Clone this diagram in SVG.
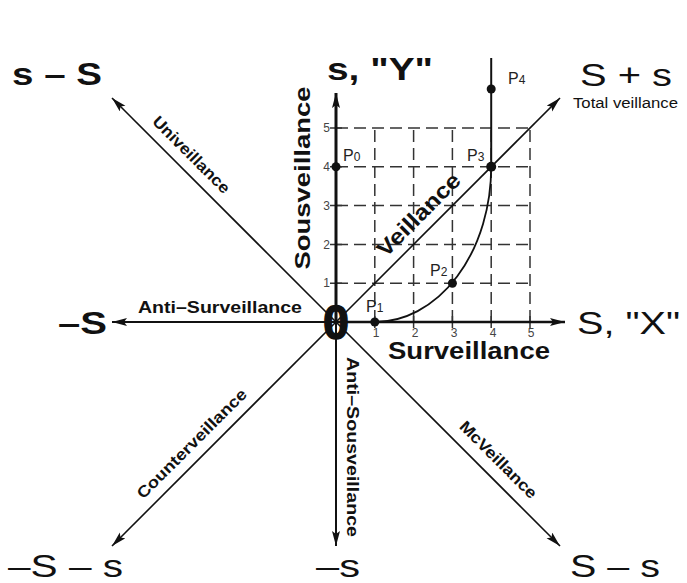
<svg xmlns="http://www.w3.org/2000/svg" width="687" height="583" viewBox="0 0 687 583">
<defs>
<marker id="ah" markerUnits="userSpaceOnUse" markerWidth="16" markerHeight="10" refX="15" refY="4" orient="auto">
<path d="M0,0 L15,4 L0,8 L3,4 Z" fill="#111"/>
</marker>
<style>
text{font-family:"Liberation Sans",Arial,sans-serif;fill:#111}
.big{font-size:31px}
.bb{font-size:31px;font-weight:bold}
.lab{font-weight:bold}
.tick{font-size:12px;fill:#444}
.pl{font-size:16px;fill:#222}
.pl tspan{font-size:12px}
.grid{stroke:#333;stroke-width:1.5;stroke-dasharray:12 6;fill:none}
.ax{stroke:#111;fill:none}
.dot{fill:#111}
</style>
</defs>
<rect width="687" height="583" fill="#fff"/>

<g id="grid">
<path class="grid" d="M374.8,322V128 M413.6,322V128 M452.4,322V128 M491.2,322V128 M530,322V128 M336,283.2H530 M336,244.4H530 M336,205.6H530 M336,166.8H530 M336,128H530"/>
<path stroke="#333" stroke-width="1.5" d="M330,283.2H342 M330,244.4H342 M330,205.6H342 M330,166.8H342 M330,128H342 M374.8,316V328 M413.6,316V328 M452.4,316V328 M491.2,316V328 M530,316V328"/>
</g>

<g id="connectors">
<line class="ax" x1="336" y1="322" x2="565" y2="322" stroke-width="2.5" marker-end="url(#ah)"/>
<line class="ax" x1="336" y1="322" x2="112" y2="322" stroke-width="2" marker-end="url(#ah)"/>
<line class="ax" x1="336" y1="322" x2="336" y2="93" stroke-width="3" marker-end="url(#ah)"/>
<line class="ax" x1="336" y1="322" x2="336" y2="546" stroke-width="2" marker-end="url(#ah)"/>
<line class="ax" x1="336" y1="322" x2="112" y2="98" stroke-width="1.6" marker-end="url(#ah)"/>
<line class="ax" x1="336" y1="322" x2="560" y2="98" stroke-width="1.6" marker-end="url(#ah)"/>
<line class="ax" x1="336" y1="322" x2="112" y2="546" stroke-width="1.6" marker-end="url(#ah)"/>
<line class="ax" x1="336" y1="322" x2="560" y2="546" stroke-width="1.6" marker-end="url(#ah)"/>
<path class="ax" stroke-width="1.8" d="M374.8,322 A116.4,155.2 0 0 0 491.2,166.8"/>
<line class="ax" x1="491.2" y1="166.8" x2="491.2" y2="58" stroke-width="2"/>
</g>

<g id="points">
<circle class="dot" cx="336" cy="166.8" r="4.5"/>
<circle class="dot" cx="374.8" cy="322" r="4.5"/>
<circle class="dot" cx="452.4" cy="283.2" r="4.5"/>
<circle class="dot" cx="491.2" cy="166.8" r="5"/>
<circle class="dot" cx="491.2" cy="89" r="4.5"/>
<text class="pl" x="343" y="161">P<tspan>0</tspan></text>
<text class="pl" x="366" y="312">P<tspan>1</tspan></text>
<text class="pl" x="430" y="276">P<tspan>2</tspan></text>
<text class="pl" x="467" y="161">P<tspan>3</tspan></text>
<text class="pl" x="508" y="84">P<tspan>4</tspan></text>
</g>

<g id="ticks">
<text class="tick" x="330" y="287" text-anchor="end">1</text>
<text class="tick" x="330" y="249" text-anchor="end">2</text>
<text class="tick" x="330" y="210" text-anchor="end">3</text>
<text class="tick" x="330" y="171" text-anchor="end">4</text>
<text class="tick" x="330" y="132" text-anchor="end">5</text>
<text class="tick" x="376" y="337" text-anchor="middle">1</text>
<text class="tick" x="415" y="337" text-anchor="middle">2</text>
<text class="tick" x="454" y="337" text-anchor="middle">3</text>
<text class="tick" x="493" y="337" text-anchor="middle">4</text>
<text class="tick" x="531" y="337" text-anchor="middle">5</text>
</g>

<g id="origin">
<text x="336" y="339" text-anchor="middle" font-size="48" font-weight="bold" stroke="#111" stroke-width="1.5" textLength="26" lengthAdjust="spacingAndGlyphs">0</text>
</g>

<g id="corner-labels">
<text class="bb" x="12" y="85" textLength="90" lengthAdjust="spacingAndGlyphs">s – S</text>
<text class="bb" x="327" y="80" textLength="106" lengthAdjust="spacingAndGlyphs">s, "Y"</text>
<text class="big" x="580" y="86" textLength="92" lengthAdjust="spacingAndGlyphs">S + s</text>
<text x="573" y="108" font-size="14" textLength="105" lengthAdjust="spacingAndGlyphs">Total veillance</text>
<text class="big" x="577" y="334" font-size="34" textLength="103" lengthAdjust="spacingAndGlyphs">S, "X"</text>
<text class="bb" x="58" y="334" textLength="49" lengthAdjust="spacingAndGlyphs">–S</text>
<text class="big" x="8" y="577" textLength="115" lengthAdjust="spacingAndGlyphs">–S – s</text>
<text class="big" x="316" y="577" textLength="44" lengthAdjust="spacingAndGlyphs">–s</text>
<text class="big" x="570" y="577" textLength="90" lengthAdjust="spacingAndGlyphs">S – s</text>
</g>

<g id="axis-labels">
<text class="lab" font-size="16" text-anchor="middle" transform="translate(191,155) rotate(45)" y="5" textLength="102" lengthAdjust="spacingAndGlyphs">Univeillance</text>
<text class="lab" font-size="22" text-anchor="middle" transform="translate(419,215) rotate(-45)" y="7" textLength="108" lengthAdjust="spacingAndGlyphs">Veillance</text>
<text class="lab" font-size="16" text-anchor="middle" transform="translate(192,444) rotate(-45)" y="5" textLength="148" lengthAdjust="spacingAndGlyphs">Counterveillance</text>
<text class="lab" font-size="16" text-anchor="middle" transform="translate(498,460) rotate(45)" y="5" textLength="102" lengthAdjust="spacingAndGlyphs">McVeillance</text>
<text class="lab" font-size="22" text-anchor="middle" transform="translate(302,178) rotate(-90)" y="8" textLength="183" lengthAdjust="spacingAndGlyphs">Sousveillance</text>
<text class="lab" font-size="17" text-anchor="middle" transform="translate(353,447) rotate(90)" y="6" textLength="180" lengthAdjust="spacingAndGlyphs">Anti–Sousveillance</text>
<text class="lab" font-size="17" text-anchor="middle" x="220" y="313" textLength="164" lengthAdjust="spacingAndGlyphs">Anti–Surveillance</text>
<text class="lab" font-size="24" text-anchor="middle" x="469" y="359" textLength="162" lengthAdjust="spacingAndGlyphs">Surveillance</text>
</g>
</svg>
